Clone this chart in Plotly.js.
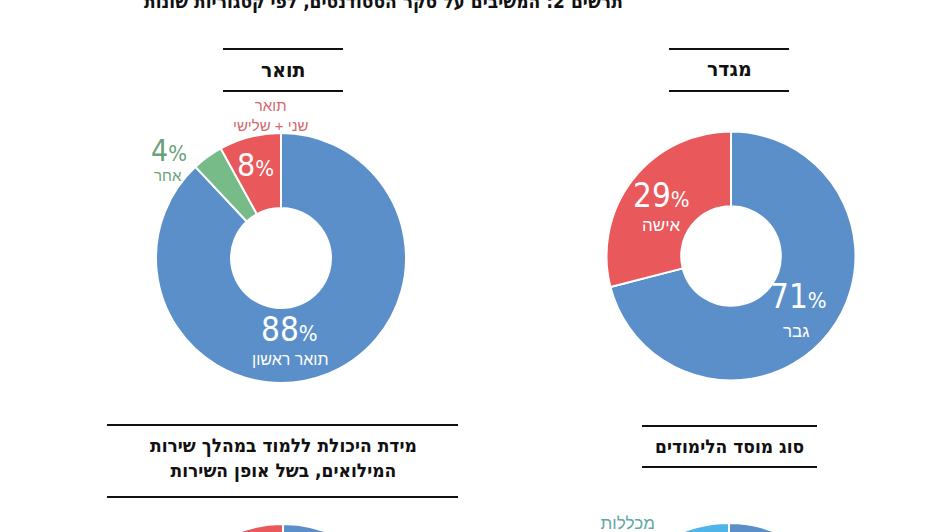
<!DOCTYPE html>
<html>
<head>
<meta charset="utf-8">
<script src="https://cdn.plot.ly/plotly-3.0.1.min.js"></script>
<style>
  html, body { margin: 0; padding: 0; background: #fff; overflow: hidden; }
  #plot { width: 947px; height: 800px; }
</style>
</head>
<body>
<div id="plot"></div>
<script>
// data (slices listed clockwise from 12 o'clock)
const chartTitle = "תרשים 2: המשיבים על סקר הסטודנטים, לפי קטגוריות שונות";

const degreeTitle = "תואר";
const degreeLabels = ["תואר ראשון", "אחר", "תואר שני + שלישי"];
const degreeValues = [88, 4, 8];

const genderTitle = "מגדר";
const genderLabels = ["גבר", "אישה"];
const genderValues = [71, 29];

const serviceTitle = "מידת היכולת ללמוד במהלך שירות<br>המילואים, בשל אופן השירות";
const serviceLabels = ["לא נפגעה", "נפגעה"];
const serviceValues = [64, 36];

const instTitle = "סוג מוסד הלימודים";
const instLabels = ["אוניברסיטאות", "מכללות מתוקצבות"];
const instValues = [66, 34];

const W = 947, H = 800;
const BLUE = "#5b8fca", RED = "#e9585b", GREEN = "#76bb88", LIGHTBLUE = "#4fb5e8";

// pie placement in page pixels: centre and radius
const pies = [
  { cx: 281, cy: 258, r: 125 },
  { cx: 731, cy: 256, r: 124.5 },
  { cx: 283, cy: 649, r: 125 },
  { cx: 729, cy: 648, r: 125 },
];

const px = (x) => x / W;
const py = (y) => 1 - y / H;

function domainOf(p) {
  return {
    x: [px(p.cx - p.r), px(p.cx + p.r)],
    y: [py(p.cy + p.r), py(p.cy - p.r)],
  };
}

function pieTrace(labels, values, colors, p) {
  return {
    type: "pie",
    labels: labels,
    values: values,
    sort: false,
    direction: "clockwise",
    rotation: 0,
    hole: 0.4,
    textinfo: "none",
    hoverinfo: "label+percent",
    marker: { colors: colors, line: { color: "#fff", width: 2 } },
    domain: domainOf(p),
    showlegend: false,
  };
}

const data = [
  pieTrace(degreeLabels, degreeValues, [BLUE, GREEN, RED], pies[0]),
  pieTrace(genderLabels, genderValues, [BLUE, RED], pies[1]),
  pieTrace(serviceLabels, serviceValues, [BLUE, RED], pies[2]),
  pieTrace(instLabels, instValues, [BLUE, LIGHTBLUE], pies[3]),
];

const numFont = "Liberation Sans Narrow, DejaVu Sans Condensed, sans-serif";
const hebFont = "Liberation Sans, DejaVu Sans, sans-serif";
const headFont = "DejaVu Sans Condensed, DejaVu Sans, sans-serif";

function pct(v) {
  return v + "<span style='font-size:22px'>%</span>";
}

// label text positions, relative to each pie centre (px)
const sliceLabels = [
  { pie: 0, text: pct(degreeValues[0]), dx: 8, dy: 71, size: 33, color: "#fff", font: numFont },
  { pie: 0, text: degreeLabels[0], dx: 9, dy: 101, size: 16, color: "#fff", font: hebFont },
  { pie: 0, text: pct(degreeValues[2]), dx: -25, dy: -93, size: 32, color: "#fff", font: numFont },
  { pie: 0, text: "תואר<br>שני + שלישי", dx: -11, dy: -143, size: 15, color: "#d6676a", font: hebFont },
  { pie: 0, text: pct(degreeValues[1]), dx: -112, dy: -108, size: 30, color: "#6c9f7b", font: numFont },
  { pie: 0, text: degreeLabels[1], dx: -113, dy: -82, size: 15, color: "#6c9f7b", font: hebFont },
  { pie: 1, text: pct(genderValues[1]), dx: -70, dy: -61, size: 33, color: "#fff", font: numFont },
  { pie: 1, text: genderLabels[1], dx: -70, dy: -31, size: 17, color: "#fff", font: hebFont },
  { pie: 1, text: pct(genderValues[0]), dx: 67, dy: 40, size: 33, color: "#fff", font: numFont },
  { pie: 1, text: genderLabels[0], dx: 65, dy: 75, size: 17, color: "#fff", font: hebFont },
  { pie: 3, text: "מכללות<br>מתוקצבות", dx: -102, dy: -114, size: 17, color: "#5fa8a3", font: hebFont },
];

const annotations = sliceLabels.map(function (l) {
  const p = pies[l.pie];
  return {
    xref: "paper", yref: "paper",
    x: px(p.cx + l.dx), y: py(p.cy + l.dy),
    xanchor: "center", yanchor: "middle",
    text: l.text, showarrow: false,
    font: { family: l.font, size: l.size, color: l.color },
  };
});

// headings
const headings = [
  { text: chartTitle, x: 383, y: 2, size: 19 },
  { text: degreeTitle, x: 283, y: 70, size: 21 },
  { text: genderTitle, x: 729, y: 69, size: 21 },
  { text: serviceTitle, x: 283, y: 458, size: 19 },
  { text: instTitle, x: 729, y: 446, size: 19 },
];
headings.forEach(function (h) {
  annotations.push({
    xref: "paper", yref: "paper",
    x: px(h.x), y: py(h.y),
    xanchor: "center", yanchor: "middle",
    text: "<b>" + h.text + "</b>", showarrow: false,
    font: { family: headFont, size: h.size, color: "#111" },
  });
});

// rules above and below each heading
const rules = [
  [223, 343, 49], [223, 343, 91],
  [669, 789, 49], [669, 789, 91],
  [107, 458, 425], [107, 458, 497],
  [642, 817, 426], [642, 817, 467],
];
const shapes = rules.map(function (r) {
  return {
    type: "line", xref: "paper", yref: "paper",
    x0: px(r[0]), x1: px(r[1]), y0: py(r[2]), y1: py(r[2]),
    line: { color: "#111", width: 2 },
  };
});

const layout = {
  width: W,
  height: H,
  margin: { l: 0, r: 0, t: 0, b: 0 },
  paper_bgcolor: "#fff",
  plot_bgcolor: "#fff",
  annotations: annotations,
  shapes: shapes,
};

Plotly.newPlot("plot", data, layout, { displayModeBar: false, staticPlot: true });
</script>
</body>
</html>
